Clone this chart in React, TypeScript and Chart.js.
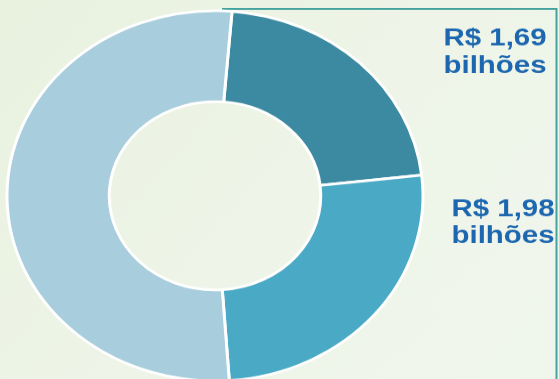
import React, { useEffect, useRef } from "react";
import { Chart, registerables } from "chart.js";

Chart.register(...registerables);

const categories = ["Segmento A", "Segmento B", "Demais"];
const values = [1.69, 1.98, 4.04];
const colors = ["#3c8aa2", "#4aaac5", "#a8cddd"];
const labelLines = [
  ["R$ 1,69", "bilhões"],
  ["R$ 1,98", "bilhões"],
];

const W = 559;
const H = 430;
const SY = 0.89;

const decorPlugin = {
  id: "decor",
  beforeDraw(chart: any) {
    const ctx = chart.ctx;
    ctx.save();
    const g = ctx.createLinearGradient(0, 0, W, H);
    g.addColorStop(0, "#e9f1df");
    g.addColorStop(0.5, "#eef5e8");
    g.addColorStop(1, "#f0f6ec");
    ctx.fillStyle = g;
    ctx.fillRect(0, 0, W, H);
    ctx.restore();
  },
  beforeDatasetsDraw(chart: any) {
    const ctx = chart.ctx;
    ctx.save();
    ctx.strokeStyle = "#45a39e";
    ctx.lineWidth = 2;
    ctx.beginPath();
    ctx.moveTo(222, 10);
    ctx.lineTo(556.5, 10);
    ctx.lineTo(556.5, H);
    ctx.stroke();
    ctx.restore();
  },
  afterDraw(chart: any) {
    const ctx = chart.ctx;
    ctx.save();
    ctx.fillStyle = "#1c67b0";
    ctx.font = "bold 27px 'Liberation Sans', Arial, sans-serif";
    ctx.textAlign = "center";
    ctx.textBaseline = "alphabetic";
    const pos = [
      { x: 495, y: [51, 82] },
      { x: 503, y: [243, 273] },
    ];
    labelLines.forEach((lines, i) => {
      lines.forEach((t, j) => {
        ctx.save();
        ctx.translate(pos[i].x, pos[i].y[j]);
        ctx.scale(1.09, 1);
        ctx.fillText(t, 0, 0);
        ctx.restore();
      });
    });
    ctx.restore();
  },
};

export default function App() {
  const ref = useRef<HTMLCanvasElement | null>(null);
  useEffect(() => {
    document.body.style.margin = "0";
    const canvas = ref.current!;
    const chart = new Chart(canvas, {
      type: "doughnut",
      data: {
        labels: categories,
        datasets: [
          {
            data: values,
            backgroundColor: colors,
            borderColor: "#ffffff",
            borderWidth: 3,
          },
        ],
      },
      options: {
        responsive: false,
        animation: false,
        rotation: 4.7,
        radius: 208,
        cutout: 106,
        layout: { padding: { left: 0, right: 129, top: 10, bottom: 0 } },
        plugins: {
          legend: { display: false },
          tooltip: { enabled: false },
        },
      },
      plugins: [decorPlugin],
    });
    return () => chart.destroy();
  }, []);
  return (
    <div style={{ position: "fixed", left: 0, top: 0, width: W, height: 379, overflow: "hidden" }}>
      <div style={{ width: W, height: H, transform: `scaleY(${SY})`, transformOrigin: "0 0" }}>
        <canvas ref={ref} width={W} height={H} style={{ width: W, height: H, display: "block" }} />
      </div>
    </div>
  );
}
